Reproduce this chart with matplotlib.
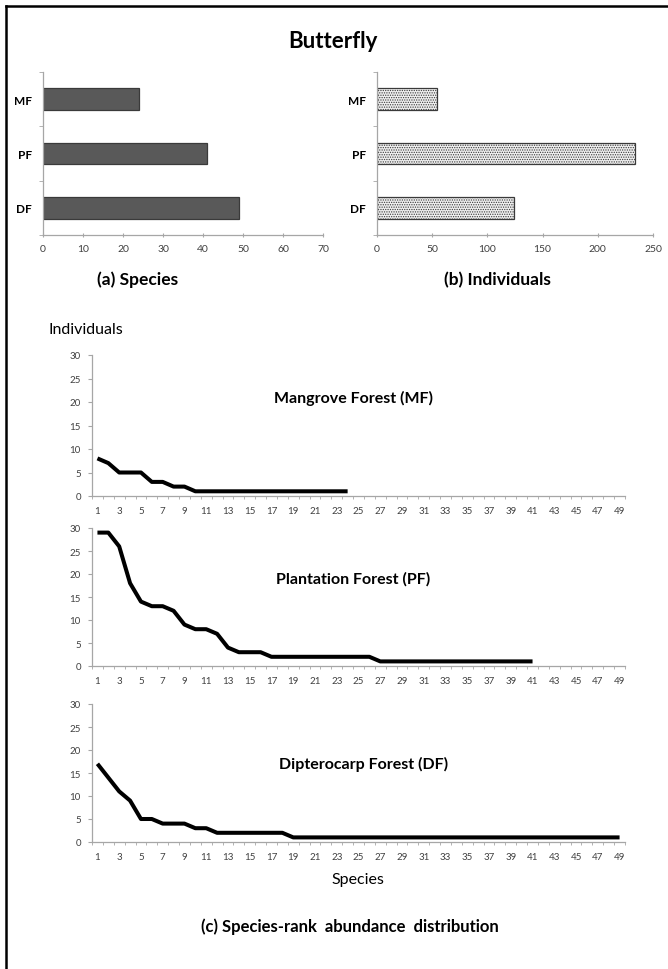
import numpy as np
import matplotlib
matplotlib.use("Agg")
import matplotlib.pyplot as plt
from matplotlib.lines import Line2D

plt.rcParams['font.family'] = ['Lato', 'DejaVu Sans']
plt.rcParams['hatch.linewidth'] = 0.6

# data
forests = ["DF", "PF", "MF"]
species = [49, 41, 24]
individuals = [124, 234, 54]

mf_rank = [8, 7, 5, 5, 5, 3, 3, 2, 2, 1, 1, 1, 1, 1, 1, 1, 1, 1, 1, 1, 1, 1, 1, 1]
pf_rank = [29, 29, 26, 18, 14, 13, 13, 12, 9, 8, 8, 7, 4, 3, 3, 3,
           2, 2, 2, 2, 2, 2, 2, 2, 2, 2,
           1, 1, 1, 1, 1, 1, 1, 1, 1, 1, 1, 1, 1, 1, 1]
df_rank = [17, 14, 11, 9, 5, 5, 4, 4, 4, 3, 3,
           2, 2, 2, 2, 2, 2, 2] + [1] * 31
rank_titles = ["Mangrove Forest (MF)", "Plantation Forest (PF)", "Dipterocarp Forest (DF)"]
title_pos = [(0.49, 21), (0.49, 19), (0.51, 17)]

W, H = 668, 970
fig = plt.figure(figsize=(W / 100, H / 100), dpi=100)

def box(x0, y0, x1, y1):
    # pixel box (top-left origin) -> figure fraction
    return [x0 / W, 1 - y1 / H, (x1 - x0) / W, (y1 - y0) / H]

axis_grey = "#a6a6a6"
tick_grey = "#404040"

def style_axes(ax):
    for s in ["top", "right"]:
        ax.spines[s].set_visible(False)
    for s in ["left", "bottom"]:
        ax.spines[s].set_color(axis_grey)
        ax.spines[s].set_linewidth(0.9)


# ---- bar charts ----
bar_specs = [
    (box(43, 73, 323, 236), species, np.arange(0, 71, 10), 70,
     dict(color="#595959", edgecolor="#3a3a3a")),
    (box(377, 73, 653, 236), individuals, np.arange(0, 251, 50), 250,
     dict(color="#efefef", edgecolor="#3a3a3a", hatch=".......")),
]
for pos, vals, xt, xmax, kw in bar_specs:
    ax = fig.add_axes(pos)
    ax.barh(np.arange(3), vals, height=0.4, linewidth=0.9, **kw)
    ax.set_ylim(-0.5, 2.5)
    ax.set_xlim(0, xmax)
    style_axes(ax)
    ax.set_xticks(xt)
    ax.set_xticklabels([str(v) for v in xt], fontsize=7.5, color=tick_grey)
    ax.set_yticks(np.arange(3))
    ax.set_yticklabels(forests, fontsize=8.5, fontweight="bold")
    ax.set_yticks([-0.5, 0.5, 1.5, 2.5], minor=True)
    ax.tick_params(axis="y", which="major", length=0, pad=8)
    ax.tick_params(axis="y", which="minor", length=3, color=axis_grey)
    ax.tick_params(axis="x", length=3, color=axis_grey, direction="inout", pad=5)

fig.text(138 / W, 1 - 280 / H, "(a) Species", fontsize=12.5, fontweight="bold",
         ha="center", va="center")
fig.text(497 / W, 1 - 280 / H, "(b) Individuals", fontsize=12.5, fontweight="bold",
         ha="center", va="center")
fig.text(333 / W, 1 - 42 / H, "Butterfly", fontsize=16, fontweight="bold",
         ha="center", va="center")

# ---- rank abundance charts ----
rank_boxes = [box(92, 356, 625, 497), box(92, 529, 625, 667), box(92, 705, 625, 843)]
for pos, data, ttl, (tx, ty) in zip(rank_boxes, [mf_rank, pf_rank, df_rank], rank_titles, title_pos):
    ax = fig.add_axes(pos)
    r = np.arange(1, len(data) + 1)
    ax.plot(r, data, color="black", lw=2.9, solid_joinstyle="round", solid_capstyle="butt")
    ax.set_xlim(0.5, 49.5)
    ax.set_ylim(0, 30)
    style_axes(ax)
    ax.set_yticks(np.arange(0, 31, 5))
    ax.set_yticklabels([str(v) for v in range(0, 31, 5)], fontsize=7, color=tick_grey)
    ax.tick_params(axis="y", length=3, color=axis_grey, pad=5)
    ax.set_xticks(np.arange(1, 50, 2))
    ax.set_xticklabels([str(v) for v in range(1, 50, 2)], fontsize=7, color=tick_grey)
    ax.set_xticks(np.arange(0.5, 50, 1), minor=True)
    ax.tick_params(axis="x", which="major", length=0, pad=7)
    ax.tick_params(axis="x", which="minor", length=2.5, color=axis_grey)
    ax.text(tx, ty / 30, ttl, transform=ax.transAxes, fontsize=11.5, fontweight="bold",
            ha="center", va="center")

fig.text(86 / W, 1 - 330 / H, "Individuals", fontsize=11.5, ha="center", va="center")
fig.text(358 / W, 1 - 880 / H, "Species", fontsize=11.5, ha="center", va="center")
fig.text(350 / W, 1 - 927 / H, "(c) Species-rank  abundance  distribution", fontsize=12,
         fontweight="bold", ha="center", va="center")

# frame (left and top edges visible in the picture)
fig.add_artist(Line2D([6 / W, 6 / W], [0, 1 - 7 / H], color="black", lw=1.8,
                      transform=fig.transFigure))
fig.add_artist(Line2D([6 / W, 1], [1 - 7 / H, 1 - 7 / H], color="black", lw=1.8,
                      transform=fig.transFigure))

fig.savefig("out.png", dpi=100)
